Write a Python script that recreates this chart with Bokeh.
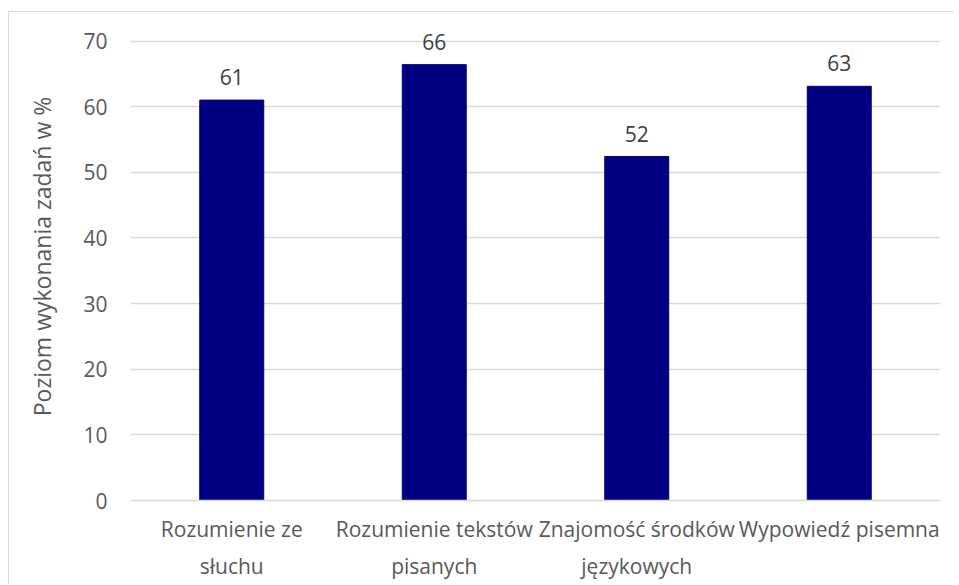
from bokeh.plotting import figure
from bokeh.models import ColumnDataSource, FixedTicker
from bokeh.core.properties import value
from bokeh.embed import file_html
from bokeh.resources import INLINE

categories = ["Rozumienie ze\nsłuchu", "Rozumienie tekstów\npisanych",
              "Znajomość środków\njęzykowych", "Wypowiedź pisemna"]
values = [61.0, 66.4, 52.4, 63.1]
value_labels = ["61", "66", "52", "63"]
y_ticks = [0, 10, 20, 30, 40, 50, 60, 70]

FONT = "Open Sans"
FS = "21px"

# frame extends above the top gridline (70) so value labels are not clipped
H, BOTTOM, GRID_SPAN = 573, 85, 459.5
y_end = y_ticks[-1] * (H - BOTTOM) / GRID_SPAN

src = ColumnDataSource(dict(cat=categories, val=values, lab=value_labels))

p = figure(x_range=categories, y_range=(0, y_end), width=945, height=H,
           output_backend="svg", toolbar_location=None,
           min_border_left=121, min_border_right=14, min_border_top=0,
           min_border_bottom=BOTTOM)
p.styles = {"border-left": "1px solid #d9d9d9", "border-top": "1px solid #d9d9d9",
            "margin-left": "8px", "margin-top": "11px"}
p.outline_line_color = None
p.background_fill_color = "white"
p.border_fill_color = "white"

p.vbar(x="cat", top="val", width=0.316, color="#000080", source=src)
p.text(x="cat", y="val", text="lab", source=src, y_offset=-23,
       text_align="center", text_baseline="alphabetic",
       text_font=value(FONT), text_font_size=FS, text_color="#404040")

p.xgrid.grid_line_color = None
p.ygrid.grid_line_color = "#d9d9d9"
p.ygrid.grid_line_width = 1.3
p.yaxis.ticker = FixedTicker(ticks=y_ticks)

p.yaxis.axis_line_color = None
p.yaxis.major_tick_line_color = None
p.yaxis.minor_tick_line_color = None
p.yaxis.major_tick_out = 0
p.yaxis.major_label_standoff = 23
p.yaxis.major_label_text_font = FONT
p.yaxis.major_label_text_font_size = FS
p.yaxis.major_label_text_color = "#595959"
p.yaxis.axis_label = "Poziom wykonania zadań w %"
p.yaxis.axis_label_text_font = FONT
p.yaxis.axis_label_text_font_size = "23px"
p.yaxis.axis_label_text_font_style = "normal"
p.yaxis.axis_label_text_color = "#595959"
p.yaxis.axis_label_standoff = 22

p.xaxis.axis_line_color = "#d9d9d9"
p.xaxis.axis_line_width = 1.3
p.xaxis.major_tick_line_color = None
p.xaxis.minor_tick_line_color = None
p.xaxis.major_tick_out = 0
p.xaxis.major_label_standoff = 14
p.xaxis.major_label_text_font = FONT
p.xaxis.major_label_text_font_size = FS
p.xaxis.major_label_text_color = "#595959"
p.xaxis.major_label_text_line_height = 1.33

open("out.html", "w").write(file_html(p, INLINE))
